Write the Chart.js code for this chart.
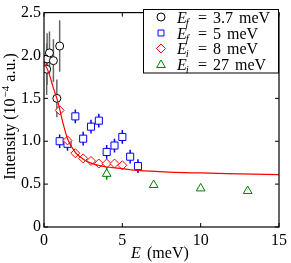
<!DOCTYPE html>
<html>
<head>
<meta charset="utf-8">
<title></title>
<style>
    body { margin: 0; background: #fff; }
    #wrap { width: 291px; height: 263px; }
</style>
</head>
<body>
<div id="wrap"><canvas id="plot"></canvas></div>
<script src="https://cdn.jsdelivr.net/npm/chart.js@4.4.0/dist/chart.umd.min.js"></script>
<script>
    // E_f = 3.7 meV
    var ef37E = [0.17, 0.2, 0.35, 0.6, 1.0, 0.82];
    var ef37I = [1.84, 1.96, 2.03, 1.94, 2.11, 1.50];
    var ef37Err = [0.30, 0.30, 0.25, 0.25, 0.30, 0.22];
    // E_f = 5 meV
    var ef5E = [1.0, 1.5, 2.0, 2.5, 3.0, 3.5, 4.0, 4.5, 5.0, 5.5, 6.0];
    var ef5I = [1.0, 0.97, 1.29, 1.03, 1.17, 1.24, 0.875, 0.95, 1.05, 0.82, 0.71];
    var ef5Err = [0.08, 0.08, 0.08, 0.08, 0.08, 0.08, 0.08, 0.08, 0.08, 0.08, 0.08];
    // E_i = 8 meV
    var ei8E = [1.0, 1.5, 2.0, 2.5, 3.0, 3.5, 4.0, 4.5, 5.0];
    var ei8I = [1.36, 1.01, 0.86, 0.80, 0.77, 0.74, 0.74, 0.74, 0.72];
    // E_i = 27 meV
    var ei27E = [4, 7, 10, 13];
    var ei27I = [0.62, 0.49, 0.45, 0.42];
    var ei27Err = [0.07, 0.03, 0.03, 0.03];
    // fitted curve
    var fitE = [0, 0.3, 0.6, 0.9, 1.2, 1.5, 2.0, 2.5, 3.0, 4.0, 5.0, 6.0, 8.0, 10, 12.5, 15];
    var fitI = [1.92, 1.80, 1.62, 1.45, 1.22, 1.03, 0.87, 0.79, 0.745, 0.70, 0.68, 0.66, 0.64, 0.63, 0.62, 0.61];

    var xTicks = [0, 5, 10, 15];
    var yTicks = [0, 0.5, 1, 1.5, 2, 2.5];
    var legendSubs = ['f', 'f', 'i', 'i'];
    var legendVals = ['3.7', '5', '8', '27'];

    function pts(xs, ys) {
        return xs.map(function (x, i) { return {x: x, y: ys[i]}; });
    }

    var serif = '"Liberation Serif", "DejaVu Serif", serif';

    var datasets = [
        {label: 'fit', data: pts(fitE, fitI), showLine: true, borderColor: '#ff0000', borderWidth: 1.2,
            pointRadius: 0, tension: 0.4, cubicInterpolationMode: 'monotone', order: 0},
        {label: 'Ef37', data: pts(ef37E, ef37I), errors: ef37Err, errorColor: '#666666',
            pointStyle: 'circle', pointRadius: 4, borderColor: '#000000', backgroundColor: '#ffffff',
            borderWidth: 1, order: 1},
        {label: 'Ef5', data: pts(ef5E, ef5I), errors: ef5Err, errorColor: '#0000ff',
            pointStyle: 'rect', pointRadius: 5, borderColor: '#0000ff', backgroundColor: '#ffffff',
            borderWidth: 1, order: 2},
        {label: 'Ei8', data: pts(ei8E, ei8I),
            pointStyle: 'rectRot', pointRadius: 4.5, borderColor: '#ff0000', backgroundColor: '#ffffff',
            borderWidth: 1, order: 1},
        {label: 'Ei27', data: pts(ei27E, ei27I), errors: ei27Err, errorColor: '#008000',
            pointStyle: 'triangle', pointRadius: 5, borderColor: '#008000', backgroundColor: '#ffffff',
            borderWidth: 1, order: 1}
    ];

    var errorBars = {
        id: 'errorBars',
        beforeDatasetsDraw: function (chart) {
            var ctx = chart.ctx, xs = chart.scales.x, ys = chart.scales.y, a = chart.chartArea;
            ctx.save();
            ctx.beginPath();
            ctx.rect(a.left, a.top, a.right - a.left, a.bottom - a.top);
            ctx.clip();
            chart.data.datasets.forEach(function (ds) {
                if (!ds.errors) return;
                ctx.strokeStyle = ds.errorColor;
                ctx.lineWidth = 1.5;
                ds.data.forEach(function (p, i) {
                    var px = xs.getPixelForValue(p.x);
                    ctx.beginPath();
                    ctx.moveTo(px, ys.getPixelForValue(p.y - ds.errors[i]));
                    ctx.lineTo(px, ys.getPixelForValue(p.y + ds.errors[i]));
                    ctx.stroke();
                });
            });
            ctx.restore();
        }
    };

    var decor = {
        id: 'decor',
        afterDraw: function (chart) {
            var ctx = chart.ctx, xs = chart.scales.x, ys = chart.scales.y, a = chart.chartArea;
            ctx.save();
            // frame and inward ticks
            ctx.strokeStyle = '#000';
            ctx.lineWidth = 1.2;
            ctx.strokeRect(a.left, a.top, a.right - a.left, a.bottom - a.top);
            ctx.lineWidth = 1;
            ctx.beginPath();
            xTicks.forEach(function (v) {
                var px = xs.getPixelForValue(v);
                ctx.moveTo(px, a.bottom); ctx.lineTo(px, a.bottom - 4);
                ctx.moveTo(px, a.top); ctx.lineTo(px, a.top + 4);
            });
            yTicks.forEach(function (v) {
                var py = ys.getPixelForValue(v);
                ctx.moveTo(a.left, py); ctx.lineTo(a.left + 4, py);
                ctx.moveTo(a.right, py); ctx.lineTo(a.right - 4, py);
            });
            ctx.stroke();

            ctx.fillStyle = '#000';
            ctx.textBaseline = 'alphabetic';
            ctx.textAlign = 'left';

            // x title: E (meV)
            ctx.font = 'italic 16px ' + serif;
            ctx.fillText('E', 131, 258);
            ctx.font = '16px ' + serif;
            ctx.fillText('(meV)', 147, 258);

            // y title: Intensity (10^-4 a.u.)
            ctx.save();
            ctx.translate(15, 117);
            ctx.rotate(-Math.PI / 2);
            ctx.font = '16px ' + serif;
            var p1 = 'Intensity (10', p2 = '\u22124', p3 = ' a.u.)';
            var w1 = ctx.measureText(p1).width, w3 = ctx.measureText(p3).width;
            ctx.font = '11px ' + serif;
            var w2 = ctx.measureText(p2).width;
            var x0 = -(w1 + w2 + w3) / 2;
            ctx.font = '16px ' + serif;
            ctx.fillText(p1, x0, 0);
            ctx.font = '11px ' + serif;
            ctx.fillText(p2, x0 + w1 + 1, -6);
            ctx.font = '16px ' + serif;
            ctx.fillText(p3, x0 + w1 + w2 + 1, 0);
            ctx.restore();

            // legend
            ctx.fillStyle = '#fff';
            ctx.fillRect(143, 9.5, 135, 63.5);
            ctx.strokeStyle = '#000';
            ctx.lineWidth = 1;
            ctx.strokeRect(143.5, 9.5, 135, 63.5);
            var rowY = [17, 33, 48.5, 64];
            datasets.slice(1).forEach(function (ds, i) {
                var cy = rowY[i];
                ctx.strokeStyle = ds.borderColor;
                ctx.fillStyle = '#fff';
                ctx.lineWidth = 1;
                var r = ds.pointStyle === 'rect' ? 4.2 : ds.pointRadius;
                Chart.helpers.drawPoint(ctx, {pointStyle: ds.pointStyle, radius: r, rotation: 0, borderWidth: 1},
                    161, ds.pointStyle === 'triangle' ? cy + 1 : cy);
                ctx.fillStyle = '#000';
                var base = cy + 5.5;
                ctx.font = 'italic 16px ' + serif;
                ctx.fillText('E', 177, base);
                var ew = ctx.measureText('E').width;
                ctx.font = 'italic 11px ' + serif;
                ctx.fillText(legendSubs[i], 177 + ew - 1, base + 3);
                ctx.font = '16px ' + serif;
                ctx.fillText('=', 198, base);
                ctx.fillText(legendVals[i], 213, base);
                var vw = ctx.measureText(legendVals[i]).width;
                ctx.fillText('meV', 213 + vw + 6, base);
            });
            ctx.restore();
        }
    };

    var chart = new Chart(document.getElementById('plot').getContext('2d'), {
        type: 'scatter',
        data: {datasets: datasets},
        options: {
            responsive: true,
            maintainAspectRatio: false,
            animation: false,
            layout: {padding: {top: 5, right: 8, left: 0, bottom: 0}},
            plugins: {legend: {display: false}, tooltip: {enabled: false}},
            scales: {
                x: {
                    type: 'linear', min: 0, max: 15,
                    grid: {display: false, drawTicks: false}, border: {display: false},
                    ticks: {color: '#000', font: {family: serif, size: 16}, padding: 4, maxRotation: 0},
                    afterBuildTicks: function (s) { s.ticks = xTicks.map(function (v) { return {value: v}; }); },
                    afterFit: function (s) { s.height = 36; }
                },
                y: {
                    type: 'linear', min: 0, max: 2.5,
                    grid: {display: false, drawTicks: false}, border: {display: false},
                    ticks: {color: '#000', font: {family: serif, size: 16}, padding: 3},
                    afterBuildTicks: function (s) { s.ticks = yTicks.map(function (v) { return {value: v}; }); },
                    afterFit: function (s) { s.width = 44; }
                }
            }
        },
        plugins: [errorBars, decor]
    });
</script>
</body>
</html>
